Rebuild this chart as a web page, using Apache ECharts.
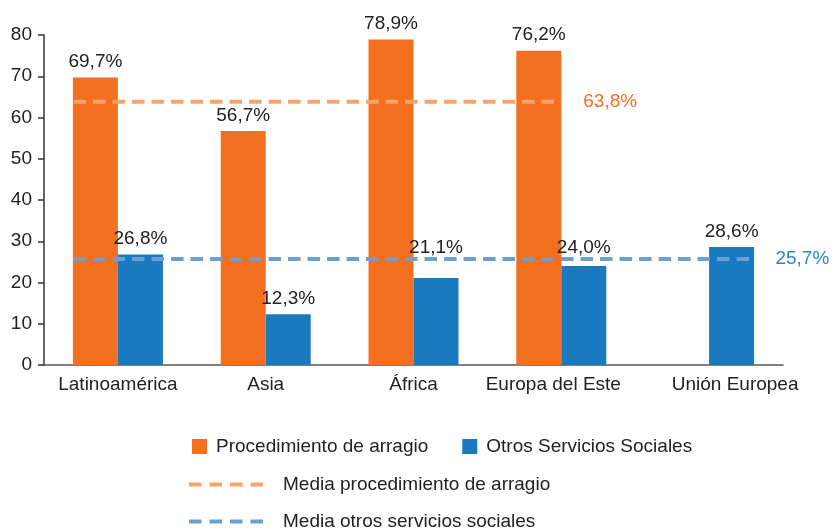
<!DOCTYPE html>
<html>
<head>
<meta charset="utf-8">
<script src="https://cdn.jsdelivr.net/npm/echarts@6/dist/echarts.min.js"></script>
<style>
html,body{margin:0;padding:0;background:#fff;}
#main{width:832px;height:528px;}
</style>
</head>
<body>
<div id="main"></div>
<script>
var regiones = ['Latinoamérica', 'Asia', 'África', 'Europa del Este', 'Unión Europea'];
var arragio = [69.7, 56.7, 78.9, 76.2, null];
var otros = [26.8, 12.3, 21.1, 24.0, 28.6];
var mediaArragio = 63.8;
var mediaOtros = 25.7;
// tramo (en unidades de categoria) que cubre cada linea de media
var tramoArragio = [0.2, 3.5];
var tramoOtros = [0.2, 4.8];
var ticksY = [0, 10, 20, 30, 40, 50, 60, 70, 80];

var naranja = '#f37021';
var azul = '#1a7abf';
var naranjaMedia = '#f7a468';
var azulMedia = '#6b9ed3';
var fuente = 'Liberation Sans';
var iconoRayas = 'path://M0,0h12.5v4h-12.5zM20.5,0h12.5v4h-12.5zM41,0h12.5v4h-12.5zM61.5,0h12.5v4h-12.5z';
// desplazamiento horizontal (px) de las etiquetas de categoria, como en el original
var ajusteEtiqueta = [0, 0, 0, -8, 26];

var gridTop = 35, gridBottom = 163;
var pxPorUnidad = (528 - gridTop - gridBottom) / 80;

function pct(v) {
    return v.toFixed(1).replace('.', ',') + '%';
}

var categorias = regiones.map(function (r, i) {
    var d = ajusteEtiqueta[i];
    return {
        value: r,
        textStyle: {padding: d >= 0 ? [0, 0, 0, 2 * d] : [0, -2 * d, 0, 0]}
    };
});

// etiquetas de barras azules que caen justo bajo la media se suben por encima
var otrosData = otros.map(function (v) {
    var item = {value: v};
    if (v < mediaOtros && v > mediaOtros - 6) {
        item.label = {offset: [0, -(mediaOtros - v) * pxPorUnidad + 4]};
    }
    return item;
});

var myChart = echarts.init(document.getElementById('main'));
var option = {
    animation: false,
    textStyle: {fontFamily: fuente},
    grid: {left: 44, right: 49, top: gridTop, bottom: gridBottom},
    legend: [
        {
            data: ['Procedimiento de arragio', 'Otros Servicios Sociales'],
            left: 192, top: 437, padding: 0, itemWidth: 15, itemHeight: 15, itemGap: 34,
            icon: 'rect',
            textStyle: {fontSize: 19, color: '#222', fontFamily: fuente, padding: [0, 0, 0, 4]}
        },
        {
            data: ['Media procedimiento de arragio'],
            left: 189, top: 475, padding: 0, itemWidth: 74, itemHeight: 4,
            icon: iconoRayas,
            textStyle: {fontSize: 19, color: '#222', fontFamily: fuente, padding: [0, 0, 0, 15]}
        },
        {
            data: ['Media otros servicios sociales'],
            left: 189, top: 512, padding: 0, itemWidth: 74, itemHeight: 4,
            icon: iconoRayas,
            textStyle: {fontSize: 19, color: '#222', fontFamily: fuente, padding: [0, 0, 0, 15]}
        }
    ],
    xAxis: [
        {
            type: 'category',
            data: categorias,
            axisLine: {lineStyle: {color: '#555', width: 1.5}},
            axisTick: {show: false},
            axisLabel: {fontSize: 19, color: '#222', margin: 10, interval: 0}
        },
        {
            type: 'value', min: 0, max: 5, show: false
        }
    ],
    yAxis: {
        type: 'value', min: 0, max: 80, interval: 10,
        axisLine: {show: true, lineStyle: {color: '#333', width: 1.5}},
        axisTick: {show: true, inside: false, length: 6, lineStyle: {color: '#333', width: 1.5}},
        splitLine: {show: false},
        axisLabel: {
            fontSize: 19, color: '#222', margin: 12,
            formatter: function (v) { return ticksY.indexOf(v) >= 0 ? String(v) : ''; }
        }
    },
    series: [
        {
            name: 'Procedimiento de arragio',
            type: 'bar', barWidth: 45, barGap: '0%',
            itemStyle: {color: naranja},
            data: arragio,
            label: {
                show: true, position: 'top', distance: 6, fontSize: 19, color: '#222',
                formatter: function (p) { return pct(p.value); }
            }
        },
        {
            name: 'Otros Servicios Sociales',
            type: 'bar', barWidth: 45,
            itemStyle: {color: azul},
            data: otrosData,
            label: {
                show: true, position: 'top', distance: 6, fontSize: 19, color: '#222',
                formatter: function (p) { return pct(p.value); }
            }
        },
        {
            name: 'Media procedimiento de arragio',
            type: 'line', xAxisIndex: 1, symbol: 'none', z: 5,
            itemStyle: {color: naranjaMedia},
            lineStyle: {color: naranjaMedia, width: 4, type: [12.5, 7]},
            data: [[tramoArragio[0], mediaArragio], [tramoArragio[1], mediaArragio]],
            endLabel: {
                show: true, distance: 22, fontSize: 19, color: naranja,
                formatter: function () { return pct(mediaArragio); }
            }
        },
        {
            name: 'Media otros servicios sociales',
            type: 'line', xAxisIndex: 1, symbol: 'none', z: 5,
            itemStyle: {color: azulMedia},
            lineStyle: {color: azulMedia, width: 4, type: [12.5, 7]},
            data: [[tramoOtros[0], mediaOtros], [tramoOtros[1], mediaOtros]],
            endLabel: {
                show: true, distance: 22, fontSize: 19, color: '#2a88c9',
                formatter: function () { return pct(mediaOtros); }
            }
        }
    ]
};
myChart.setOption(option);
</script>
</body>
</html>
